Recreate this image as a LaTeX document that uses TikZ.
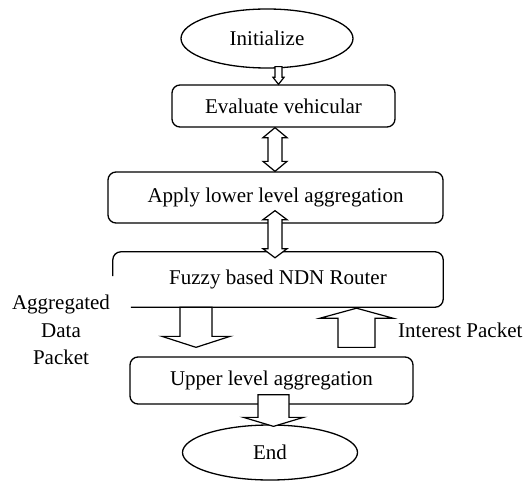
\documentclass[tikz,border=0pt]{standalone}
\usepackage{fontspec}
\setmainfont{Liberation Serif}
\usetikzlibrary{shapes.geometric,calc}

% Hollow block arrows, drawn as white-filled outlines.
% #1 start point, #2 tip point, #3 shaft half width, #4 head half width, #5 head length
\newcommand\blockDown[5]{%
  \draw[blockarrow] let \p1=(#1), \p2=(#2) in
    (\x2-#3,\y1) -- (\x2-#3,\y2+#5) -- (\x2-#4,\y2+#5) -- (\x2,\y2)
    -- (\x2+#4,\y2+#5) -- (\x2+#3,\y2+#5) -- (\x2+#3,\y1) -- cycle;}
\newcommand\blockUp[5]{%
  \draw[blockarrow] let \p1=(#1), \p2=(#2) in
    (\x2-#3,\y1) -- (\x2-#3,\y2-#5) -- (\x2-#4,\y2-#5) -- (\x2,\y2)
    -- (\x2+#4,\y2-#5) -- (\x2+#3,\y2-#5) -- (\x2+#3,\y1) -- cycle;}
% #1 upper tip, #2 lower tip (same x taken from #2)
\newcommand\blockBoth[5]{%
  \draw[blockarrow] let \p1=(#1), \p2=(#2) in
    (\x2,\y1) -- (\x2+#4,\y1-#5) -- (\x2+#3,\y1-#5) -- (\x2+#3,\y2+#5)
    -- (\x2+#4,\y2+#5) -- (\x2,\y2) -- (\x2-#4,\y2+#5) -- (\x2-#3,\y2+#5)
    -- (\x2-#3,\y1-#5) -- (\x2-#4,\y1-#5) -- cycle;}

\begin{document}
\begin{tikzpicture}[x=1pt,y=-1pt,
  every node/.style={font=\fontsize{21}{27.5}\selectfont, inner sep=0pt},
  terminal/.style={ellipse, draw, line width=1.3pt},
  stepbox/.style={rectangle, rounded corners=8pt, draw, line width=1.3pt},
  blockarrow/.style={draw, fill=white, line width=1.2pt, line join=miter},
  label/.style={align=center}]
  \useasboundingbox (0,0) rectangle (526,481);

  % process steps
  \node[terminal, minimum width=172pt, minimum height=59pt] (init) at (267,38.5) {Initialize};
  \node[stepbox, minimum width=223pt, minimum height=42pt] (ev) at (283.5,106) {Evaluate vehicular};
  \node[stepbox, minimum width=335pt, minimum height=51pt] (ap) at (275.5,197.5) {Apply lower level aggregation};
  \node[minimum width=330pt, minimum height=55pt] (fz) at (278,279.5) {Fuzzy based NDN Router};
  \draw[line width=1.3pt, rounded corners=8pt]
    ([yshift=3.5pt]fz.west) |- (fz.north east) |- ([xshift=18pt]fz.south west);
  \node[stepbox, minimum width=283pt, minimum height=47pt] (up) at (271.5,380.5) {Upper level aggregation};
  \node[terminal, minimum width=175pt, minimum height=55pt] (end) at (270,452.5) {End};

  % side labels
  \node[label] (agg) at (61,330) {Aggregated\\Data\\Packet};
  \node[anchor=west] (ip) at (398,330) {Interest Packet};

  % block arrows between steps
  \blockDown{[xshift=11.5pt,yshift=2pt]init.south}{[xshift=-5pt]ev.north}{3.5pt}{5.5pt}{7pt}
  \blockBoth{[xshift=-8.5pt]ev.south}{[xshift=-0.5pt]ap.north}{7pt}{12pt}{10pt}
  \blockBoth{[xshift=-0.5pt,yshift=13pt]ap.south}{[xshift=-3pt,yshift=-6pt]fz.north}{7pt}{12pt}{9pt}
  \blockDown{[xshift=-82pt]fz.south}{[xshift=-75.5pt,yshift=9pt]up.north}{16pt}{34pt}{11pt}
  \blockUp{[xshift=85pt,yshift=9pt]up.north}{[xshift=78.5pt,yshift=-1pt]fz.south}{18.5pt}{36.5pt}{10pt}
  \blockDown{[xshift=2pt,yshift=10pt]up.south}{[xshift=3.5pt,yshift=-2pt]end.north}{15.5pt}{30pt}{9pt}
\end{tikzpicture}
\end{document}
